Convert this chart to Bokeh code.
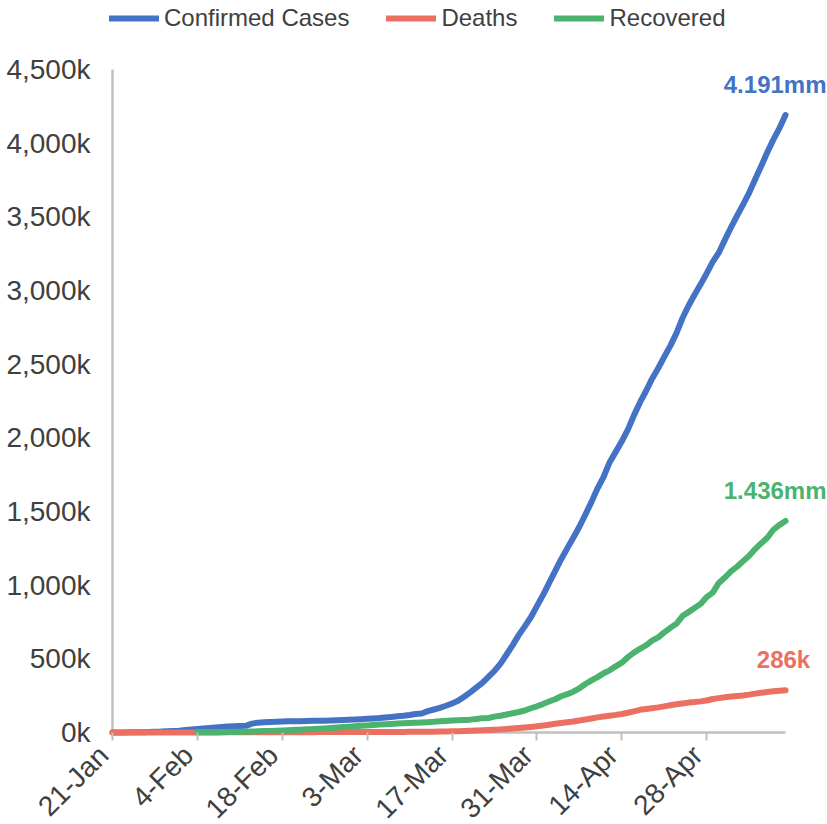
import math
import pandas as pd
from bokeh.plotting import figure
from bokeh.models import Range1d, FixedTicker, Legend, LegendItem, Label, LinearAxis
from bokeh.embed import file_html
from bokeh.resources import INLINE

# ---------------- data (thousands of people) ----------------
start_date = "2020-01-21"
end_date = "2020-05-11"
tick_labels = ["21-Jan", "4-Feb", "18-Feb", "3-Mar", "17-Mar", "31-Mar", "14-Apr", "28-Apr"]
y_ticks_k = [0, 500, 1000, 1500, 2000, 2500, 3000, 3500, 4000, 4500]

confirmed_k = [
    0.3, 0.6, 0.7, 0.9, 1.4, 2.1, 2.9, 5.6, 6.2, 8.2, 9.9,
    12.0, 16.8, 19.9, 23.9, 27.6, 30.8, 34.4, 37.1, 40.2, 42.8,
    44.8, 45.2, 60.4, 66.9, 69.0, 71.2, 73.3, 75.1, 75.6, 76.2,
    76.8, 78.6, 79.0, 79.6, 80.4, 81.4, 82.7, 84.1, 86.0,
    88.4, 90.3, 92.8, 95.1, 97.9, 101.8, 105.8, 109.8, 113.6, 118.6,
    125.9, 128.4, 145.2, 156.1, 167.5, 181.6, 197.1, 214.8, 242.6, 272.2,
    304.5, 337.0, 378.2, 418.0, 467.7, 529.6, 593.3, 660.7, 720.1, 782.4,
    857.5,
    932.6, 1013.5, 1095.9, 1176.1, 1249.8, 1321.5, 1396.5, 1479.8, 1565.3, 1657.5,
    1735.7, 1834.7, 1904.8, 1976.2, 2056.1, 2152.4, 2240.2, 2317.8, 2401.4, 2472.3,
    2549.1, 2624.1, 2708.9, 2811.2, 2896.7, 2971.5, 3041.8, 3116.4, 3193.9, 3256.8,
    3343.8, 3427.3, 3506.7, 3583.1, 3662.7, 3755.3, 3845.7, 3938.1, 4024.0, 4101.7,
    4191.0,
]

deaths_k = [
    0.0, 0.0, 0.0, 0.0, 0.0, 0.1, 0.1, 0.1, 0.1, 0.2, 0.2,
    0.3, 0.4, 0.4, 0.5, 0.6, 0.6, 0.7, 0.8, 0.9, 1.0,
    1.1, 1.1, 1.4, 1.5, 1.7, 1.8, 1.9, 2.0, 2.1, 2.2,
    2.3, 2.5, 2.5, 2.6, 2.7, 2.8, 2.8, 2.9, 2.9,
    3.0, 3.1, 3.2, 3.3, 3.3, 3.5, 3.6, 3.8, 4.0, 4.3,
    4.6, 4.7, 5.4, 5.8, 6.4, 7.1, 7.9, 8.7, 9.9, 11.3,
    13.0, 14.6, 16.5, 18.6, 21.2, 24.0, 27.2, 30.7, 33.9, 37.6,
    42.1,
    46.8, 53.0, 58.8, 64.6, 69.4, 74.6, 81.9, 88.3, 95.5, 102.5,
    108.5, 114.1, 119.5, 126.0, 134.2, 143.8, 153.8, 159.5, 165.0, 170.4,
    177.6, 184.7, 191.2, 197.3, 202.9, 206.5, 211.2, 217.2, 227.6, 233.4,
    238.7, 243.8, 247.5, 251.5, 257.2, 263.9, 269.6, 274.9, 279.3, 282.7,
    286.0,
]

recovered_k = [None] * 14 + [
    0.9, 1.1, 1.5, 2.0, 2.6, 3.2, 3.9, 4.7,
    5.2, 6.3, 8.1, 9.4, 10.9, 12.6, 14.4, 16.1, 18.2, 18.9,
    22.9, 23.4, 25.2, 27.9, 30.4, 33.3, 36.7, 39.8,
    42.7, 45.6, 48.2, 51.2, 53.8, 55.9, 58.4, 60.7, 62.5, 64.4,
    67.0, 68.3, 70.3, 72.6, 76.0, 78.1, 80.8, 83.2, 84.9, 87.3,
    91.5, 97.4, 98.4, 107.9, 113.8, 122.2, 130.9, 139.4, 149.1, 164.6,
    178.0,
    193, 210, 226, 246, 260, 277, 300, 329, 354, 376,
    402, 422, 449, 474, 511, 542, 568, 592, 624, 646,
    680, 710, 738, 790, 817, 845, 873, 919, 949, 1015,
    1052, 1093, 1125, 1163, 1199, 1245, 1285, 1322, 1376, 1409,
    1436,
]

# ---------------- derived positions ----------------
dates = pd.date_range(start_date, end_date, freq="D")
day = list(range(len(dates)))
t0 = pd.Timestamp(start_date)
tick_pos = [(pd.to_datetime(f"{lbl}-2020", format="%d-%b-%Y") - t0).days for lbl in tick_labels]

rec_x = [d for d, v in zip(day, recovered_k) if v is not None]
rec_y = [v for v in recovered_k if v is not None]

BLUE = "#4472C4"
RED = "#EB7062"
GREEN = "#4BB36E"
TEXT = "#404040"
AXIS = "#BFBFBF"
FONT = "Liberation Sans"

# ---------------- layout (screen pixels) ----------------
W, H = 827, 824
PLOT_L, PLOT_R, PLOT_T, PLOT_B = 112, 785, 69, 732      # area of the data axes
px_day = (PLOT_R - PLOT_L) / (day[-1] - day[0])
px_k = (PLOT_B - PLOT_T) / y_ticks_k[-1]
x_start = day[0] - PLOT_L / px_day
x_end = day[0] + (W - PLOT_L) / px_day
y_start = -(H - PLOT_B) / px_k
y_end = y_ticks_k[-1] + PLOT_T / px_k
LABEL_SHIFT_PX = 9           # rotated labels end just left of their tick (Excel style)

# the frame fills the whole canvas; both axes are pinned at the data origin
p = figure(width=W, height=H, output_backend="svg", toolbar_location=None,
           x_range=Range1d(x_start, x_end), y_range=Range1d(y_start, y_end),
           min_border_left=0, min_border_right=0, min_border_top=0,
           min_border_bottom=0)
p.outline_line_color = None
p.grid.visible = False
p.background_fill_color = "white"
p.border_fill_color = "white"

# axis lines (drawn under the series)
p.line([day[0], day[-1]], [0, 0], line_color=AXIS, line_width=2.5)
p.line([day[0], day[0]], [0, y_ticks_k[-1]], line_color=AXIS, line_width=2.5)

lw = 6
r_conf = p.line(day, confirmed_k, line_color=BLUE, line_width=lw, line_cap="round", line_join="round")
r_death = p.line(day, deaths_k, line_color=RED, line_width=lw, line_cap="round", line_join="round")
r_rec = p.line(rec_x, rec_y, line_color=GREEN, line_width=lw, line_cap="round", line_join="round")

# x axis tick marks, pinned at y = 0
xa = p.xaxis[0]
xa.fixed_location = 0
xa.ticker = FixedTicker(ticks=tick_pos)
xa.major_label_overrides = {t: "" for t in tick_pos}
xa.axis_line_color = None
xa.major_tick_line_color = AXIS
xa.major_tick_line_width = 2
xa.major_tick_out = 8
xa.major_tick_in = 0
xa.minor_tick_line_color = None

# x axis tick labels (rotated), nudged so their upper end sits at the tick
shift = LABEL_SHIFT_PX / px_day
label_pos = [round(t - shift, 3) for t in tick_pos]
xl = LinearAxis(fixed_location=0, ticker=FixedTicker(ticks=label_pos),
                major_label_overrides={lp: l for lp, l in zip(label_pos, tick_labels)},
                major_label_orientation=math.pi / 4,
                axis_line_color=None, major_tick_line_color=None, minor_tick_line_color=None,
                major_tick_out=8, major_tick_in=0, major_label_standoff=10,
                major_label_text_font=FONT, major_label_text_font_size="28px",
                major_label_text_color=TEXT)
p.add_layout(xl, "below")

# y axis, pinned at the first day
ya = p.yaxis[0]
ya.fixed_location = day[0]
ya.ticker = FixedTicker(ticks=y_ticks_k)
ya.major_label_overrides = {t: f"{t:,}k" for t in y_ticks_k}
ya.axis_line_color = None
ya.major_tick_line_color = None
ya.minor_tick_line_color = None
ya.major_label_text_font = FONT
ya.major_label_text_font_size = "28px"
ya.major_label_text_color = TEXT
ya.major_label_standoff = 16

# legend above the data area
legend = Legend(items=[LegendItem(label="Confirmed Cases", renderers=[r_conf]),
                       LegendItem(label="Deaths", renderers=[r_death]),
                       LegendItem(label="Recovered", renderers=[r_rec])],
                orientation="horizontal", location=(PLOT_L - 3, H - 32),
                glyph_width=50, glyph_height=24, label_height=24,
                label_standoff=5, spacing=37, padding=0, margin=0,
                label_text_font=FONT, label_text_font_size="24px",
                label_text_color=TEXT, background_fill_alpha=0,
                border_line_color=None)
p.add_layout(legend, "center")

# end-of-line value labels
lab_conf = Label(x=day[-1], y=confirmed_k[-1], text=f"{confirmed_k[-1] / 1000:.3f}mm",
                 x_offset=41, y_offset=31, text_align="right", text_baseline="middle",
                 text_font=FONT, text_font_style="bold", text_font_size="24px", text_color=BLUE)
lab_rec = Label(x=day[-1], y=recovered_k[-1], text=f"{recovered_k[-1] / 1000:.3f}mm",
                x_offset=41, y_offset=30, text_align="right", text_baseline="middle",
                text_font=FONT, text_font_style="bold", text_font_size="24px", text_color=GREEN)
lab_death = Label(x=day[-1], y=deaths_k[-1], text=f"{deaths_k[-1]:.0f}k",
                  x_offset=-2, y_offset=31, text_align="center", text_baseline="middle",
                  text_font=FONT, text_font_style="bold", text_font_size="24px", text_color=RED)
for lab in (lab_conf, lab_rec, lab_death):
    p.add_layout(lab)

open("out.html", "w").write(file_html(p, INLINE))
